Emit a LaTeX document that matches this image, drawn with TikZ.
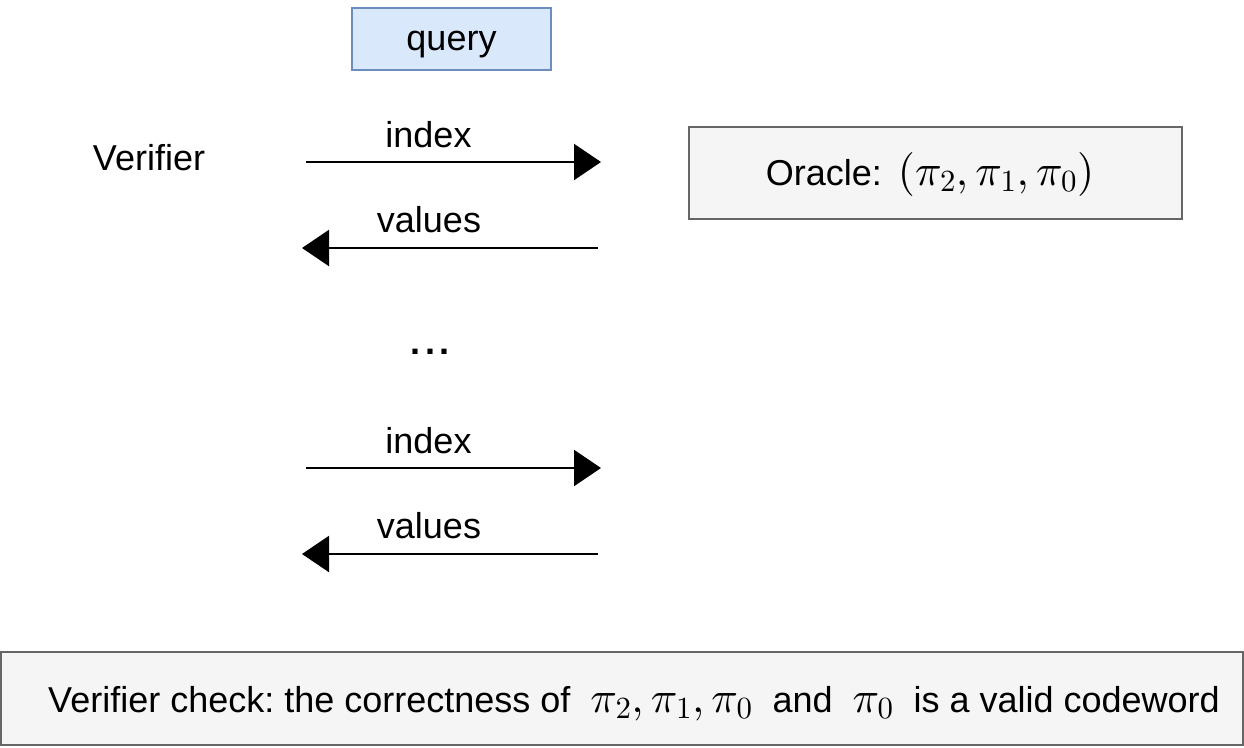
\documentclass[tikz,border=0pt]{standalone}
\usepackage[no-math]{fontspec}
\setmainfont{Liberation Sans}
\usetikzlibrary{arrows.meta}
% math glyphs drawn from the 10pt designs at every size
\DeclareFontShape{OT1}{cmr}{m}{n}{<->cmr10}{}
\DeclareFontShape{OML}{cmm}{m}{it}{<->cmmi10}{}
\DeclareFontShape{OMS}{cmsy}{m}{n}{<->cmsy10}{}
\DeclareFontShape{OMX}{cmex}{m}{n}{<->cmex10}{}
\frenchspacing
\definecolor{qfill}{HTML}{DAE8FC}
\definecolor{qdraw}{HTML}{6C8EBF}
\definecolor{gfill}{HTML}{F5F5F5}
\definecolor{gdraw}{HTML}{666666}
% math set a little larger than the surrounding text
\newcommand{\bigmath}[1]{{\fontsize{44}{48}\selectfont$#1$}}
\tikzset{
  txt/.style={font=\fontsize{36}{40}\selectfont, inner sep=0pt, anchor=base},
  msg/.style={line width=2.2pt, -{Triangle[length=27pt,width=36pt]}},
  qbox/.style={draw=qdraw, fill=qfill, line width=2pt},
  gbox/.style={draw=gdraw, fill=gfill, line width=2pt},
}
\begin{document}
\begin{tikzpicture}[x=1pt,y=-1pt]
\useasboundingbox (0,0) rectangle (1244,747);
% query header
\draw[qbox] (352,8) rectangle (551,70);
\node[txt] (query) at (451.5,50) {query};
% participants
\node[txt] (verifier) at (149,170) {Verifier};
\draw[gbox] (689,127) rectangle (1182,219);
\node[txt] (oracle) at (930,185) {Oracle:\hspace{16pt}\bigmath{(\pi_2,\pi_1,\pi_0)}};
% first round
\coordinate (i1s) at (306,162); \coordinate (i1e) at (601,162);
\draw[msg] (i1s) -- (i1e);
\node[txt] (idx1) at (428.5,147) {index};
\coordinate (v1s) at (598,248); \coordinate (v1e) at (302,248);
\draw[msg] (v1s) -- (v1e);
\node[txt] (val1) at (429,232) {values};
% ellipsis
\node[txt] (dots) at (430,354) {\textbf{.\kern4.5pt.\kern4.5pt.}};
% last round
\coordinate (i2s) at (306,468); \coordinate (i2e) at (601,468);
\draw[msg] (i2s) -- (i2e);
\node[txt] (idx2) at (428.5,453) {index};
\coordinate (v2s) at (598,554); \coordinate (v2e) at (302,554);
\draw[msg] (v2s) -- (v2e);
\node[txt] (val2) at (429,538) {values};
% final check
\draw[gbox] (1,652) rectangle (1243,745);
\node[txt] (check) at (634,712) {Verifier check: the correctness of\ \ \bigmath{\pi_2,\pi_1,\pi_0}\ \ and\ \ \bigmath{\pi_0}\ \ is a valid codeword};
\end{tikzpicture}
\end{document}
